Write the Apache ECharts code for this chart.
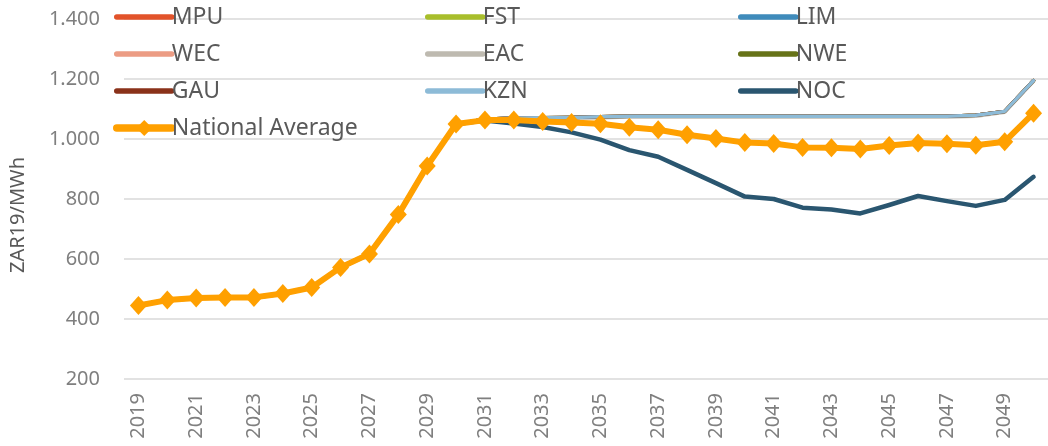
<!DOCTYPE html>
<html>
<head>
<meta charset="utf-8">
<script src="https://cdn.jsdelivr.net/npm/echarts@6/dist/echarts.min.js"></script>
<style>
  html, body { margin: 0; padding: 0; background: #ffffff; }
  #chart { width: 1048px; height: 446px; }
</style>
</head>
<body>
<div id="chart"></div>
<script>
// Years on the category axis
const years = [];
for (let y = 2019; y <= 2050; y++) years.push(String(y));

// Regional tariffs, ZAR19/MWh
const MPU = [445, 463, 470, 472, 472, 485, 505, 572, 617, 748, 910, 1050, 1066, 1070, 1071, 1072, 1074, 1076, 1076, 1076, 1076, 1076, 1076, 1076, 1076, 1076, 1076, 1076, 1076, 1079, 1092, 1195];
const FST = [445, 463, 470, 472, 472, 485, 505, 572, 617, 748, 910, 1050, 1066, 1070, 1071, 1072, 1074, 1076, 1076, 1076, 1076, 1076, 1076, 1076, 1076, 1076, 1076, 1076, 1076, 1079, 1092, 1195];
const LIM = [445, 463, 470, 472, 472, 485, 505, 572, 617, 748, 910, 1050, 1066, 1070, 1071, 1072, 1074, 1076, 1076, 1076, 1076, 1076, 1076, 1076, 1076, 1076, 1076, 1076, 1076, 1079, 1092, 1195];
const WEC = [445, 463, 470, 472, 472, 485, 505, 572, 617, 748, 910, 1050, 1066, 1070, 1071, 1072, 1074, 1076, 1076, 1076, 1076, 1076, 1076, 1076, 1076, 1076, 1076, 1076, 1076, 1079, 1092, 1195];
const EAC = [445, 463, 470, 472, 472, 485, 505, 572, 617, 748, 910, 1050, 1064, 1067, 1068, 1069, 1071, 1073, 1073, 1073, 1073, 1073, 1073, 1073, 1073, 1073, 1073, 1073, 1073, 1076, 1089, 1192];
const NWE = [445, 463, 470, 472, 472, 485, 505, 572, 617, 748, 910, 1050, 1066, 1070, 1071, 1072, 1074, 1076, 1076, 1076, 1076, 1076, 1076, 1076, 1076, 1076, 1076, 1076, 1076, 1079, 1092, 1195];
const GAU = [445, 463, 470, 472, 472, 485, 505, 572, 617, 748, 910, 1050, 1066, 1070, 1071, 1072, 1074, 1076, 1076, 1076, 1076, 1076, 1076, 1076, 1076, 1076, 1076, 1076, 1076, 1079, 1092, 1195];
const KZN = [445, 463, 470, 472, 472, 485, 505, 572, 617, 748, 910, 1050, 1066, 1070, 1071, 1072, 1074, 1076, 1076, 1076, 1076, 1076, 1076, 1076, 1076, 1076, 1076, 1076, 1076, 1079, 1092, 1195];
const NOC = [445, 463, 470, 472, 472, 485, 505, 572, 617, 748, 910, 1050, 1062, 1052, 1040, 1022, 998, 963, 941, 897, 853, 808, 800, 771, 765, 752, 780, 810, 793, 777, 797, 874];
const nationalAverage = [445, 463, 470, 472, 472, 485, 505, 572, 617, 748, 910, 1050, 1063, 1063, 1058, 1055, 1051, 1039, 1031, 1014, 1002, 988, 985, 972, 971, 967, 978, 987, 984, 979, 991, 1086];

// Value axis ticks
const yMin = 200;
const yMax = 1400;
const yStep = 200;

const colors = {
  MPU: '#E2532A',
  FST: '#A8BE2B',
  LIM: '#3F8BBB',
  WEC: '#EC9C84',
  EAC: '#BEBAB0',
  NWE: '#677318',
  GAU: '#8A321A',
  KZN: '#8DBBD7',
  NOC: '#2A5670',
  'National Average': '#FFA000'
};

const regional = [
  ['MPU', MPU], ['FST', FST], ['LIM', LIM], ['WEC', WEC],
  ['EAC', EAC], ['NWE', NWE], ['GAU', GAU], ['KZN', KZN]
];

const series = regional.map(([name, data]) => ({
  name, type: 'line', data,
  showSymbol: false, symbol: 'none',
  lineStyle: { width: 3.5, color: colors[name], cap: 'round', join: 'round' },
  itemStyle: { color: colors[name] },
  animation: false
}));

series.push({
  name: 'NOC', type: 'line', data: NOC,
  showSymbol: false, symbol: 'none',
  lineStyle: { width: 4.5, color: colors.NOC, cap: 'round', join: 'round' },
  itemStyle: { color: colors.NOC },
  animation: false
});

series.push({
  name: 'National Average', type: 'line', data: nationalAverage,
  symbol: 'diamond', symbolSize: [17, 19],
  lineStyle: { width: 6, color: colors['National Average'], join: 'round' },
  itemStyle: { color: colors['National Average'] },
  animation: false
});

const fontFamily = '"Noto Sans", sans-serif';

// Legend swatches: plain lines, except the marked national average
function swatch(name) {
  return name === 'National Average'
    ? { name, lineStyle: { width: 7.5, cap: 'round' } }
    : { name, itemStyle: { opacity: 0 }, lineStyle: { width: 5.5, cap: 'round' } };
}

function legendColumn(left, names) {
  return {
    orient: 'vertical',
    left, top: 0,
    itemWidth: 55, itemHeight: 20, itemGap: 13,
    data: names.map(swatch),
    selectedMode: false,
    textStyle: { fontFamily, fontSize: 23, color: '#595959', lineHeight: 24, padding: [0, 0, 0, -5] }
  };
}

const chart = echarts.init(document.getElementById('chart'), null, { renderer: 'canvas' });
chart.setOption({
  backgroundColor: '#ffffff',
  animation: false,
  legend: [
    legendColumn(108, ['MPU', 'WEC', 'GAU', 'National Average']),
    legendColumn(420, ['FST', 'EAC', 'KZN']),
    legendColumn(733, ['LIM', 'NWE', 'NOC'])
  ],
  grid: { left: 118, right: -7, top: 19, bottom: 67, containLabel: false },
  xAxis: {
    type: 'category',
    data: years,
    boundaryGap: true,
    axisLine: { show: false },
    axisTick: { show: false },
    axisLabel: {
      interval: 1, rotate: 90, margin: 14,
      fontFamily, fontSize: 20, color: '#7F7F7F'
    }
  },
  yAxis: {
    type: 'value',
    min: yMin, max: yMax, interval: yStep,
    name: 'ZAR19/MWh',
    nameLocation: 'middle',
    nameRotate: 90,
    nameGap: 96,
    nameTextStyle: { fontFamily, fontSize: 20, color: '#595959', padding: [0, 32, 0, 0] },
    axisLine: { show: false },
    axisTick: { show: false },
    splitLine: { lineStyle: { color: '#D9D9D9', width: 1.5 } },
    axisLabel: {
      margin: 24,
      fontFamily, fontSize: 20, color: '#7F7F7F',
      formatter: v => v >= 1000 ? Math.floor(v / 1000) + '.' + String(v % 1000).padStart(3, '0') : String(v)
    }
  },
  series
});
</script>
</body>
</html>
